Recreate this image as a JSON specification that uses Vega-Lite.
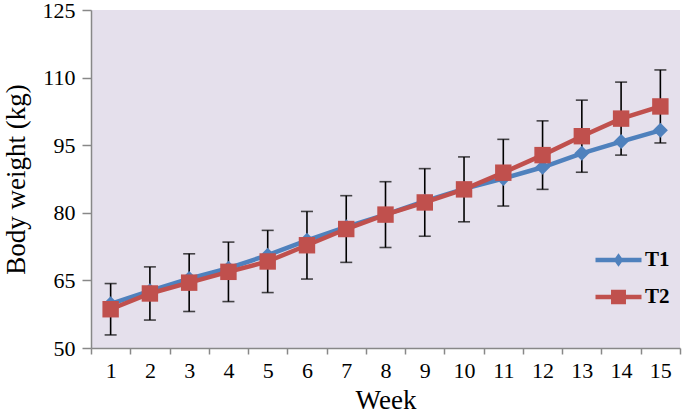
{
  "$schema": "https://vega.github.io/schema/vega-lite/v6.json",
  "width": 589,
  "height": 338,
  "autosize": {"type": "none"},
  "padding": {"left": 91, "top": 10, "right": 5, "bottom": 68},
  "background": "white",
  "config": {
    "view": {"fill": "#E5E0EC", "stroke": null},
    "font": "Liberation Serif"
  },
  "data": {
    "values": [
      {"week": 1, "series": "T1", "value": 59.8},
      {"week": 2, "series": "T1", "value": 62.7},
      {"week": 3, "series": "T1", "value": 65.4},
      {"week": 4, "series": "T1", "value": 67.7},
      {"week": 5, "series": "T1", "value": 70.6},
      {"week": 6, "series": "T1", "value": 73.9},
      {"week": 7, "series": "T1", "value": 76.9},
      {"week": 8, "series": "T1", "value": 79.6},
      {"week": 9, "series": "T1", "value": 82.6},
      {"week": 10, "series": "T1", "value": 85.3},
      {"week": 11, "series": "T1", "value": 87.6},
      {"week": 12, "series": "T1", "value": 90.1},
      {"week": 13, "series": "T1", "value": 93.2},
      {"week": 14, "series": "T1", "value": 95.8},
      {"week": 15, "series": "T1", "value": 98.3},
      {"week": 1, "series": "T2", "value": 58.6, "err": 5.7},
      {"week": 2, "series": "T2", "value": 62.1, "err": 5.9},
      {"week": 3, "series": "T2", "value": 64.5, "err": 6.4},
      {"week": 4, "series": "T2", "value": 66.9, "err": 6.6},
      {"week": 5, "series": "T2", "value": 69.2, "err": 6.9},
      {"week": 6, "series": "T2", "value": 72.8, "err": 7.5},
      {"week": 7, "series": "T2", "value": 76.4, "err": 7.4},
      {"week": 8, "series": "T2", "value": 79.6, "err": 7.3},
      {"week": 9, "series": "T2", "value": 82.3, "err": 7.5},
      {"week": 10, "series": "T2", "value": 85.2, "err": 7.2},
      {"week": 11, "series": "T2", "value": 88.9, "err": 7.4},
      {"week": 12, "series": "T2", "value": 92.8, "err": 7.6},
      {"week": 13, "series": "T2", "value": 97.0, "err": 8.0},
      {"week": 14, "series": "T2", "value": 100.9, "err": 8.1},
      {"week": 15, "series": "T2", "value": 103.6, "err": 8.1}
    ]
  },
  "encoding": {
    "x": {
      "field": "week",
      "type": "ordinal",
      "scale": {"paddingInner": 0, "paddingOuter": 0},
      "axis": {
        "title": "Week",
        "labelAngle": 0,
        "labelFont": "Liberation Serif",
        "labelFontSize": 22,
        "labelColor": "black",
        "labelPadding": 6,
        "tickBand": "extent",
        "tickSize": 6,
        "tickColor": "#888888",
        "tickWidth": 1.5,
        "domainColor": "#888888",
        "domainWidth": 1.5,
        "titleFont": "Liberation Serif",
        "titleFontSize": 27,
        "titleFontWeight": "normal",
        "titleColor": "black",
        "titlePadding": 6
      }
    },
    "y": {
      "field": "value",
      "type": "quantitative",
      "scale": {"domain": [50, 125], "zero": false},
      "axis": {
        "title": "Body weight (kg)",
        "values": [50, 65, 80, 95, 110, 125],
        "grid": false,
        "labelFont": "Liberation Serif",
        "labelFontSize": 22,
        "labelColor": "black",
        "labelPadding": 7,
        "tickSize": 9,
        "tickColor": "#888888",
        "tickWidth": 1.5,
        "domainColor": "#888888",
        "domainWidth": 1.5,
        "titleFont": "Liberation Serif",
        "titleFontSize": 27,
        "titleFontWeight": "normal",
        "titleColor": "black",
        "titlePadding": 12
      }
    }
  },
  "layer": [
    {
      "transform": [{"filter": "datum.series === 'T2'"}],
      "mark": {"type": "errorbar", "ticks": {"size": 12, "thickness": 1.6}, "color": "black", "thickness": 1.6},
      "encoding": {
        "yError": {"field": "err"}
      }
    },
    {
      "mark": {"type": "line", "strokeWidth": 4.5},
      "encoding": {
        "color": {
          "field": "series",
          "type": "nominal",
          "scale": {"domain": ["T1", "T2"], "range": ["#4F81BD", "#C0504D"]},
          "legend": {
            "title": null,
            "orient": "none",
            "legendX": 516,
            "legendY": 238.5,
            "padding": 0,
            "symbolSize": 529,
            "rowPadding": 15,
            "labelOffset": 15,
            "labelFont": "Liberation Serif",
            "labelFontSize": 21,
            "labelFontWeight": "bold",
            "labelColor": "black",
            "encode": {
              "symbols": {
                "update": {
                  "shape": {"signal": "datum.value === 'T1' ? 'M-2,-0.19L2,-0.19L2,0.19L-2,0.19Z M0,-0.58L0.42,0L0,0.58L-0.42,0Z' : 'M-2,-0.19L2,-0.19L2,0.19L-2,0.19Z M-0.65,-0.62L0.65,-0.62L0.65,0.62L-0.65,0.62Z'"},
                  "fill": {"signal": "datum.value === 'T1' ? '#4F81BD' : '#C0504D'"},
                  "stroke": {"value": "transparent"},
                  "strokeWidth": {"value": 0},
                  "opacity": {"value": 1}
                }
              }
            }
          }
        }
      }
    },
    {
      "transform": [{"filter": "datum.series === 'T1'"}],
      "mark": {"type": "point", "filled": true, "opacity": 1, "shape": "diamond", "size": 225},
      "encoding": {
        "color": {"field": "series", "type": "nominal"}
      }
    },
    {
      "transform": [{"filter": "datum.series === 'T2'"}],
      "mark": {"type": "point", "filled": true, "opacity": 1, "shape": "square", "size": 270},
      "encoding": {
        "color": {"field": "series", "type": "nominal"}
      }
    }
  ]
}
